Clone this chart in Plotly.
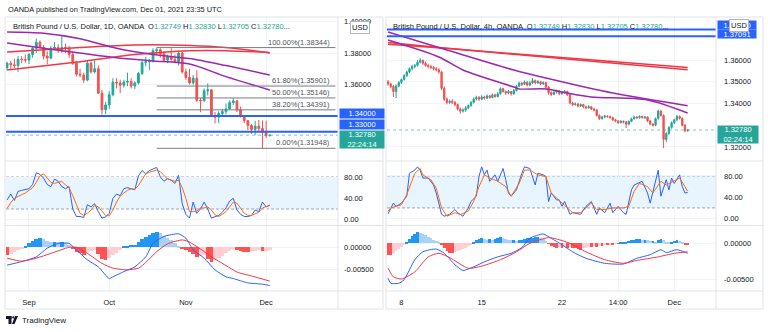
import plotly.graph_objects as go
import pandas as pd

W, H = 768, 332
FONT = "Liberation Sans, Arial, sans-serif"
TXT = "#131722"
UP, DN = "#26a69a", "#ef5350"
BLUE_LVL = "#2962ff"
GRID = "#f0f3fa"
BORDER = "#e0e3eb"

# ---------------- Daily (left) ----------------
d_dates = pd.bdate_range("2021-08-24", "2021-12-02")
d_open = [1.3707, 1.3735, 1.3725, 1.3720, 1.3760, 1.3758, 1.3755, 1.3790, 1.3830, 1.3868,
          1.3835, 1.3780, 1.3768, 1.3830, 1.3835, 1.3815, 1.3835, 1.3830, 1.3790, 1.3735,
          1.3665, 1.3660, 1.3628, 1.3735, 1.3680, 1.3700, 1.3545, 1.3440, 1.3470, 1.3535,
          1.3615, 1.3610, 1.3595, 1.3615, 1.3620, 1.3590, 1.3610, 1.3670, 1.3740, 1.3745,
          1.3748, 1.3815, 1.3820, 1.3795, 1.3755, 1.3775, 1.3760, 1.3745, 1.3800, 1.3680,
          1.3645, 1.3610, 1.3640, 1.3500, 1.3497, 1.3560, 1.3566, 1.3401, 1.3393, 1.3416,
          1.3428, 1.3445, 1.3485, 1.3496, 1.3440, 1.3398, 1.3370, 1.3340, 1.3315, 1.3336,
          1.3320, 1.3297, 1.32749]
d_high = [1.3745, 1.3750, 1.3765, 1.3780, 1.3780, 1.3790, 1.3800, 1.3840, 1.3892, 1.3880,
          1.3850, 1.3810, 1.3845, 1.3870, 1.3855, 1.3912, 1.3860, 1.3845, 1.3810, 1.3750,
          1.3700, 1.3675, 1.3750, 1.3745, 1.3750, 1.3720, 1.3565, 1.3490, 1.3560, 1.3640,
          1.3640, 1.3630, 1.3630, 1.3675, 1.3640, 1.3620, 1.3680, 1.3750, 1.3775, 1.3760,
          1.3830, 1.38344, 1.3830, 1.3810, 1.3790, 1.3830, 1.3790, 1.3810, 1.3810, 1.3700,
          1.3700, 1.3660, 1.3690, 1.3515, 1.3575, 1.3607, 1.3570, 1.3425, 1.3430, 1.3445,
          1.3480, 1.3500, 1.3514, 1.3500, 1.3460, 1.3405, 1.3375, 1.3350, 1.3370, 1.3375,
          1.3372, 1.3370, 1.32830]
d_low = [1.3690, 1.3700, 1.3705, 1.3680, 1.3735, 1.3740, 1.3730, 1.3770, 1.3800, 1.3830,
         1.3760, 1.3728, 1.3760, 1.3820, 1.3800, 1.3800, 1.3800, 1.3770, 1.3725, 1.3650,
         1.3645, 1.3610, 1.3620, 1.3670, 1.3670, 1.3540, 1.3410, 1.3412, 1.3445, 1.3525,
         1.3575, 1.3545, 1.3580, 1.3590, 1.3575, 1.3570, 1.3600, 1.3660, 1.3715, 1.3690,
         1.3740, 1.3790, 1.3770, 1.3740, 1.3735, 1.3750, 1.3735, 1.3720, 1.3670, 1.3630,
         1.3600, 1.3600, 1.3490, 1.3424, 1.3490, 1.3530, 1.3395, 1.3353, 1.3355, 1.3400,
         1.3410, 1.3440, 1.3470, 1.3425, 1.3390, 1.3355, 1.3310, 1.3287, 1.3280, 1.3300,
         1.31948, 1.3260, 1.32705]
d_close = [1.3735, 1.3725, 1.3720, 1.3760, 1.3758, 1.3755, 1.3790, 1.3830, 1.3868, 1.3835,
           1.3780, 1.3768, 1.3830, 1.3835, 1.3815, 1.3835, 1.3830, 1.3790, 1.3735, 1.3665,
           1.3660, 1.3628, 1.3735, 1.3680, 1.3700, 1.3545, 1.3440, 1.3470, 1.3535, 1.3615,
           1.3610, 1.3595, 1.3615, 1.3620, 1.3590, 1.3610, 1.3670, 1.3740, 1.3745, 1.3748,
           1.3815, 1.3820, 1.3795, 1.3755, 1.3775, 1.3760, 1.3745, 1.3800, 1.3680, 1.3645,
           1.3610, 1.3640, 1.3500, 1.3497, 1.3560, 1.3566, 1.3401, 1.3393, 1.3416, 1.3428,
           1.3445, 1.3485, 1.3496, 1.3440, 1.3398, 1.3370, 1.3340, 1.3315, 1.3336, 1.3320,
           1.3297, 1.3275, 1.32780]

# moving averages read at a few bars (bar index, price)
d_ma1_idx = [0, 10, 20, 30, 40, 50, 60, 72]
d_ma1_val = [1.3933, 1.3925, 1.3890, 1.3830, 1.3790, 1.3765, 1.3720, 1.3660]
d_ma2_idx = [0, 10, 20, 30, 40, 50, 60, 72]
d_ma2_val = [1.3863, 1.3830, 1.3800, 1.3770, 1.3750, 1.3730, 1.3650, 1.3565]
d_ma3_idx = [0, 20, 35, 50, 60, 72]
d_ma3_val = [1.3806, 1.3835, 1.3851, 1.3848, 1.3835, 1.3800]
d_ma4_idx = [0, 20, 35, 50, 60, 72]
d_ma4_val = [1.3692, 1.3745, 1.3790, 1.3815, 1.3815, 1.3803]

d_levels = [1.34, 1.33]
fib_pct = ["100.00%", "61.80%", "50.00%", "38.20%", "0.00%"]
fib_val = [1.38344, 1.35901, 1.35146, 1.34391, 1.31948]
fib_from, fib_to = 41, 90

d_stoch_k = [37, 48, 36, 53, 55, 56, 58, 66, 88, 85, 78, 66, 62, 76, 72, 62, 58, 62, 20, 6,
             6, 4, 28, 24, 30, 15, 3, 5, 12, 40, 48, 45, 58, 60, 58, 56, 82, 92, 86, 92,
             95, 98, 80, 72, 77, 74, 68, 83, 30, 10, 3, 33, 12, 20, 33, 20, 3, 5, 8, 14,
             22, 35, 40, 18, 10, 6, 6, 8, 18, 15, 33, 24, 27]
d_stoch_d = [21, 32, 40, 44, 47, 50, 55, 60, 70, 82, 86, 78, 70, 68, 70, 72, 65, 60, 45, 28,
             12, 8, 12, 18, 27, 24, 16, 8, 7, 18, 33, 44, 50, 55, 58, 57, 64, 76, 86, 89,
             91, 93, 90, 82, 76, 74, 72, 74, 60, 40, 15, 15, 16, 22, 22, 24, 18, 9, 6, 10,
             15, 24, 33, 31, 22, 12, 8, 8, 11, 14, 22, 25, 27]
d_hist = [-0.0018, -0.0015, -0.0011, -0.0007, -0.0002, 0.0004, 0.0009, 0.0014, 0.0019, 0.0021,
          0.0018, 0.0015, 0.0013, 0.0013, 0.0012, 0.0012, 0.0010, 0.0006, -0.0002, -0.0010,
          -0.0014, -0.0018, -0.0012, -0.0008, -0.0006, -0.0016, -0.0026, -0.0029, -0.0024, -0.0018,
          -0.0012, -0.0006, 0.0001, 0.0004, 0.0005, 0.0006, 0.0012, 0.0018, 0.0024, 0.0029,
          0.0033, 0.0036, 0.0032, 0.0027, 0.0021, 0.0016, 0.0010, 0.0004, -0.0004, -0.0006,
          -0.0010, -0.0016, -0.0022, -0.0020, -0.0017, -0.0026, -0.0033, -0.0030, -0.0025, -0.0019,
          -0.0013, -0.0008, -0.0005, -0.0006, -0.0009, -0.0011, -0.0011, -0.0009, -0.0008, -0.0007,
          -0.0009, -0.0008, -0.0007]
d_macd_idx = [0, 4, 8, 11, 14, 17, 19, 22, 25, 28, 29, 32, 35, 38, 40, 43, 47, 49, 51, 54,
              57, 60, 62, 66, 70, 72]
d_macd_val = [-0.0041, -0.0033, -0.0022, -0.0002, 0.0009, 0.0009, -0.0006, -0.0029, -0.0045, -0.0072,
              -0.0068, -0.0056, -0.0045, -0.0022, 0.0009, 0.0025, 0.0031, 0.0021, -0.0006, -0.0025,
              -0.0052, -0.0068, -0.0072, -0.0082, -0.0085, -0.0088]
d_sig_idx = [0, 4, 8, 12, 17, 19, 22, 26, 29, 33, 36, 38, 41, 44, 48, 50, 53, 56, 60, 63, 67, 72]
d_sig_val = [-0.0025, -0.0032, -0.0025, -0.0014, 0.0, 0.0, -0.0014, -0.0037, -0.0048, -0.0052,
             -0.0048, -0.0035, -0.0010, 0.0008, 0.0017, 0.0012, -0.0004, -0.0022, -0.0042, -0.0057,
             -0.0066, -0.0078]

# ---------------- 4h (right) ----------------
h_days = pd.bdate_range("2021-11-05", "2021-12-01")
h_times = [day + pd.Timedelta(hours=hh) for day in h_days for hh in (2, 6, 10, 14, 18, 22)][1:]
h_open = [1.3500, 1.3490, 1.3478, 1.3455, 1.3480, 1.3497, 1.3510, 1.3528, 1.3545, 1.3560,
          1.3570, 1.3575, 1.3590, 1.3598, 1.3585, 1.3575, 1.3570, 1.3566, 1.3560, 1.3555,
          1.3545, 1.3470, 1.3420, 1.3405, 1.3410, 1.3405, 1.3395, 1.3375, 1.3365, 1.3370,
          1.3380, 1.3390, 1.3405, 1.3420, 1.3428, 1.3420, 1.3430, 1.3425, 1.3435, 1.3428,
          1.3440, 1.3432, 1.3445, 1.3468, 1.3455, 1.3448, 1.3455, 1.3445, 1.3460, 1.3480,
          1.3494, 1.3488, 1.3498, 1.3485, 1.3495, 1.3505, 1.3495, 1.3500, 1.3490, 1.3496,
          1.3475, 1.3450, 1.3442, 1.3452, 1.3458, 1.3445, 1.3450, 1.3455, 1.3440, 1.3402,
          1.3395, 1.3398, 1.3388, 1.3395, 1.3385, 1.3380, 1.3385, 1.3375, 1.3370, 1.3345,
          1.3330, 1.3338, 1.3342, 1.3340, 1.3335, 1.3325, 1.3320, 1.3312, 1.3318, 1.3315,
          1.3305, 1.3318, 1.3330, 1.3338, 1.3335, 1.3340, 1.3335, 1.3338, 1.3320, 1.3305,
          1.3300, 1.3330, 1.3365, 1.3345, 1.3235, 1.3262, 1.3290, 1.3312, 1.3325, 1.3340,
          1.3332, 1.3300, 1.32749]
h_high = [1.3508, 1.3496, 1.3485, 1.3488, 1.3502, 1.3515, 1.3535, 1.3550, 1.3566, 1.3578,
          1.3582, 1.3600, 1.3609, 1.3602, 1.3592, 1.3583, 1.3578, 1.3572, 1.3568, 1.3562,
          1.3550, 1.3478, 1.3428, 1.3418, 1.3420, 1.3412, 1.3400, 1.3382, 1.3378, 1.3388,
          1.3396, 1.3412, 1.3428, 1.3436, 1.3434, 1.3438, 1.3436, 1.3442, 1.3440, 1.3446,
          1.3445, 1.3452, 1.3474, 1.3472, 1.3460, 1.3462, 1.3458, 1.3466, 1.3486, 1.3500,
          1.3498, 1.3506, 1.3502, 1.3502, 1.3517, 1.3510, 1.3508, 1.3504, 1.3502, 1.3500,
          1.3480, 1.3456, 1.3460, 1.3464, 1.3462, 1.3456, 1.3462, 1.3460, 1.3445, 1.3408,
          1.3405, 1.3402, 1.3400, 1.3398, 1.3390, 1.3392, 1.3388, 1.3380, 1.3374, 1.3350,
          1.3344, 1.3348, 1.3346, 1.3344, 1.3338, 1.3330, 1.3324, 1.3324, 1.3322, 1.3320,
          1.3322, 1.3335, 1.3344, 1.3342, 1.3346, 1.3344, 1.3342, 1.3340, 1.3324, 1.3310,
          1.3336, 1.3372, 1.3370, 1.3350, 1.3268, 1.3296, 1.3318, 1.3330, 1.3348, 1.3345,
          1.3336, 1.3306, 1.32830]
h_low = [1.3482, 1.3470, 1.3430, 1.3425, 1.3474, 1.3490, 1.3505, 1.3522, 1.3540, 1.3552,
         1.3562, 1.3570, 1.3584, 1.3578, 1.3568, 1.3562, 1.3558, 1.3552, 1.3548, 1.3538,
         1.3462, 1.3412, 1.3396, 1.3398, 1.3398, 1.3388, 1.3368, 1.3353, 1.3358, 1.3362,
         1.3374, 1.3385, 1.3400, 1.3414, 1.3412, 1.3416, 1.3418, 1.3420, 1.3422, 1.3424,
         1.3426, 1.3428, 1.3440, 1.3450, 1.3440, 1.3442, 1.3436, 1.3440, 1.3455, 1.3475,
         1.3480, 1.3484, 1.3478, 1.3480, 1.3490, 1.3488, 1.3490, 1.3484, 1.3486, 1.3468,
         1.3440, 1.3434, 1.3438, 1.3446, 1.3438, 1.3440, 1.3444, 1.3434, 1.3396, 1.3388,
         1.3390, 1.3382, 1.3384, 1.3378, 1.3374, 1.3376, 1.3370, 1.3364, 1.3340, 1.3324,
         1.3326, 1.3332, 1.3334, 1.3330, 1.3320, 1.3314, 1.3306, 1.3308, 1.3308, 1.3287,
         1.3300, 1.3314, 1.3326, 1.3328, 1.3330, 1.3330, 1.3328, 1.3315, 1.3300, 1.3294,
         1.3296, 1.3326, 1.3340, 1.3195, 1.3222, 1.3255, 1.3284, 1.3305, 1.3318, 1.3326,
         1.3295, 1.3268, 1.32705]
h_close = [1.3490, 1.3478, 1.3455, 1.3480, 1.3497, 1.3510, 1.3528, 1.3545, 1.3560, 1.3570,
           1.3575, 1.3590, 1.3598, 1.3585, 1.3575, 1.3570, 1.3566, 1.3560, 1.3555, 1.3545,
           1.3470, 1.3420, 1.3405, 1.3410, 1.3405, 1.3395, 1.3375, 1.3365, 1.3370, 1.3380,
           1.3390, 1.3405, 1.3420, 1.3428, 1.3420, 1.3430, 1.3425, 1.3435, 1.3428, 1.3440,
           1.3432, 1.3445, 1.3468, 1.3455, 1.3448, 1.3455, 1.3445, 1.3460, 1.3480, 1.3494,
           1.3488, 1.3498, 1.3485, 1.3495, 1.3505, 1.3495, 1.3500, 1.3490, 1.3496, 1.3475,
           1.3450, 1.3442, 1.3452, 1.3458, 1.3445, 1.3450, 1.3455, 1.3440, 1.3402, 1.3395,
           1.3398, 1.3388, 1.3395, 1.3385, 1.3380, 1.3385, 1.3375, 1.3370, 1.3345, 1.3330,
           1.3338, 1.3342, 1.3340, 1.3335, 1.3325, 1.3320, 1.3312, 1.3318, 1.3315, 1.3305,
           1.3318, 1.3330, 1.3338, 1.3335, 1.3340, 1.3335, 1.3338, 1.3320, 1.3305, 1.3300,
           1.3330, 1.3365, 1.3345, 1.3235, 1.3262, 1.3290, 1.3312, 1.3325, 1.3340, 1.3332,
           1.3300, 1.3275, 1.32780]

h_ma1_idx = [0, 22, 47, 59, 84, 112]
h_ma1_val = [1.3729, 1.3646, 1.3554, 1.3517, 1.3448, 1.3390]
h_ma2_idx = [0, 19, 28, 47, 49, 59, 67, 76, 97, 112]
h_ma2_val = [1.3692, 1.3614, 1.3554, 1.3476, 1.3467, 1.3467, 1.3448, 1.3430, 1.3416, 1.3356]
h_ma3_idx = [0, 25, 112]
h_ma3_val = [1.3680, 1.3650, 1.3555]
h_ma4_idx = [0, 25, 112]
h_ma4_val = [1.3672, 1.3650, 1.3566]
h_levels = [1.3740, 1.37091]

h_k_idx = [0, 2, 3, 5, 7, 8, 10, 11, 12, 13, 15, 17, 18, 20, 21, 23, 25, 26, 28, 30,
           31, 33, 34, 35, 36, 37, 38, 40, 41, 43, 44, 45, 46, 48, 50, 51, 53, 55, 56, 58,
           59, 60, 61, 63, 64, 65, 66, 68, 69, 72, 74, 76, 78, 79, 81, 83, 84, 86, 88, 89,
           91, 92, 95, 97, 98, 99, 101, 102, 104, 105, 106, 107, 109, 110, 111, 112]
h_k_val = [9, 29, 23, 29, 42, 85, 91, 97, 91, 76, 76, 63, 48, 8, 4.5, 8, 17, 11, 4.5, 20,
           32, 42, 79, 97, 82, 91, 70, 82, 70, 94, 73, 48, 42, 54, 85, 97, 94, 63, 85, 82,
           79, 32, 48, 35, 35, 23, 32, 8, 11, 8, 23, 32, 8, 20, 11, 29, 11, 23, 11, 8,
           54, 63, 70, 48, 29, 51, 91, 42, 73, 54, 76, 66, 82, 60, 48, 49]
h_d_idx = [0, 1, 5, 7, 10, 12, 13, 16, 18, 20, 22, 25, 27, 30, 32, 34, 36, 38, 41, 44,
           46, 49, 51, 53, 56, 59, 61, 63, 66, 69, 72, 76, 78, 81, 84, 88, 90, 92, 94, 97,
           99, 102, 104, 107, 109, 111, 112]
h_d_val = [14, 20, 26, 45, 85, 94, 82, 73, 57, 20, 4.5, 11, 7.6, 14, 32, 60, 82, 76, 70, 60,
           42, 66, 91, 91, 82, 79, 48, 38.5, 26, 11, 11, 29, 17, 17, 20, 20, 23, 51, 66, 60,
           48, 70, 63, 70, 76, 60, 51]
h_hist = [-0.0016, -0.0016, -0.0014, -0.0011, -0.0008, -0.0005, -0.0002, 0.0002, 0.0006, 0.0010,
          0.0013, 0.0016, 0.0015, 0.0013, 0.0011, 0.0009, 0.0007, 0.0005, 0.0003, 0.0001,
          -0.0003, -0.0007, -0.0011, -0.0013, -0.0014, -0.0012, -0.0011, -0.0009, -0.0008, -0.0006,
          -0.0004, -0.0002, 0.0001, 0.0004, 0.0006, 0.0007, 0.0006, 0.0005, 0.0006, 0.0005,
          0.0006, 0.0008, 0.0009, 0.0007, 0.0006, 0.0005, 0.0004, 0.0004, 0.0003, 0.0004,
          0.0005, 0.0006, 0.0007, 0.0008, 0.0008, 0.0009, 0.0009, 0.0008, 0.0006, 0.0003,
          -0.0001, -0.0004, -0.0005, -0.0006, -0.0005, -0.0006, -0.0005, -0.0006, -0.0005, -0.0006,
          -0.0007, -0.0008, -0.0009, -0.0007, -0.0006, -0.0005, -0.0005, -0.0004, -0.0005, -0.0004,
          -0.0004, -0.0003, -0.0003, -0.0002, -0.0002, -0.0001, -0.0001, 0.0001, 0.0001, 0.0002,
          0.0003, 0.0004, 0.0005, 0.0006, 0.0006, 0.0005, 0.0005, 0.0004, 0.0003, 0.0003,
          0.0002, 0.0004, 0.0006, 0.0004, 0.0002, 0.0001, 0.0002, 0.0003, 0.0004, 0.0003,
          0.0001, -0.0002, -0.0003]
h_macd_idx = [0, 1, 4, 6, 10, 13, 18, 21, 25, 28, 32, 36, 41, 46, 50, 53, 58, 61, 65, 69,
              74, 81, 88, 93, 98, 102, 104, 108, 112]
h_macd_val = [-0.0049, -0.0056, -0.0056, -0.0051, -0.0023, -0.0012, -0.0008, -0.0014, -0.0030, -0.0038,
              -0.0033, -0.0026, -0.0019, -0.0014, -0.0006, 0.0007, 0.0013, 0.0007, -0.0002, -0.0012,
              -0.0021, -0.0028, -0.0029, -0.0021, -0.0016, -0.0009, -0.0013, -0.0009, -0.0014]
h_sig_idx = [0, 2, 5, 10, 15, 19, 23, 30, 35, 42, 48, 53, 60, 63, 68, 74, 81, 88, 93, 101, 107, 112]
h_sig_val = [-0.0035, -0.0047, -0.0050, -0.0040, -0.0019, -0.0014, -0.0020, -0.0035, -0.0032, -0.0023,
             -0.0012, 0.0, 0.0008, 0.0006, 0.0, -0.0012, -0.0023, -0.0028, -0.0024, -0.0019, -0.0014,
             -0.0012]

legend_ohlc = [1.32749, 1.32830, 1.32705, 1.32780]
last_price = 1.32780

# ---------------- geometry helpers ----------------
def px(x):
    return x / W


def py(y):
    return 1 - y / H


LX = [px(6), px(338)]
RX = [px(387), px(716)]
Y_MAIN = [py(160), py(17)]
Y_STO = [py(225), py(161)]
Y_MACD = [py(291), py(226)]
L_RANGE = [-0.3, 90.7]
R_RANGE = [-0.4, 122.6]

fig = go.Figure()

d_x = list(range(len(d_dates)))
h_x = list(range(len(h_times)))


def hist_colors(vals):
    cols = []
    prev = 0.0
    for v in vals:
        if v >= 0:
            cols.append("#2196f3" if v >= prev else "#a8d2f8")
        else:
            cols.append("#ff5252" if v <= prev else "#ffcdd2")
        prev = v
    return cols


def add_side(xs, o, hi, lo, c, ma_list, k_x, k_v, d_x_, d_v, hist, m_x, m_v, s_x, s_v, ax):
    xa, ya = ax[0]
    fig.add_trace(go.Candlestick(
        x=xs, open=o, high=hi, low=lo, close=c, xaxis=xa, yaxis=ya,
        increasing=dict(line=dict(color=UP, width=1), fillcolor=UP),
        decreasing=dict(line=dict(color=DN, width=1), fillcolor=DN),
        whiskerwidth=0, showlegend=False, hoverinfo="skip"))
    for (mi, mv, col) in ma_list:
        fig.add_trace(go.Scatter(x=mi, y=mv, mode="lines", xaxis=xa, yaxis=ya,
                                 line=dict(color=col, width=1.5, shape="spline", smoothing=0.8),
                                 showlegend=False, hoverinfo="skip"))
    xa2, ya2 = ax[1]
    fig.add_trace(go.Scatter(x=k_x, y=k_v, mode="lines", xaxis=xa2, yaxis=ya2,
                             line=dict(color="#2962ff", width=1), showlegend=False, hoverinfo="skip"))
    fig.add_trace(go.Scatter(x=d_x_, y=d_v, mode="lines", xaxis=xa2, yaxis=ya2,
                             line=dict(color="#ff6d00", width=1), showlegend=False, hoverinfo="skip"))
    xa3, ya3 = ax[2]
    fig.add_trace(go.Bar(x=xs, y=hist, xaxis=xa3, yaxis=ya3, width=1.0,
                         marker=dict(color=hist_colors(hist), line=dict(width=0)),
                         showlegend=False, hoverinfo="skip"))
    fig.add_trace(go.Scatter(x=m_x, y=m_v, mode="lines", xaxis=xa3, yaxis=ya3,
                             line=dict(color="#2962ff", width=1, shape="spline", smoothing=0.6),
                             showlegend=False, hoverinfo="skip"))
    fig.add_trace(go.Scatter(x=s_x, y=s_v, mode="lines", xaxis=xa3, yaxis=ya3,
                             line=dict(color="#f23645", width=1, shape="spline", smoothing=0.6),
                             showlegend=False, hoverinfo="skip"))


PURPLE, RED = "#9c27b0", "#f23645"
add_side(d_x, d_open, d_high, d_low, d_close,
         [(d_ma3_idx, d_ma3_val, RED), (d_ma4_idx, d_ma4_val, RED),
          (d_ma1_idx, d_ma1_val, PURPLE), (d_ma2_idx, d_ma2_val, PURPLE)],
         d_x, d_stoch_k, d_x, d_stoch_d, d_hist, d_macd_idx, d_macd_val, d_sig_idx, d_sig_val,
         [("x", "y"), ("x2", "y2"), ("x3", "y3")])
add_side(h_x, h_open, h_high, h_low, h_close,
         [(h_ma3_idx, h_ma3_val, RED), (h_ma4_idx, h_ma4_val, RED),
          (h_ma1_idx, h_ma1_val, PURPLE), (h_ma2_idx, h_ma2_val, PURPLE)],
         h_k_idx, h_k_val, h_d_idx, h_d_val, h_hist, h_macd_idx, h_macd_val, h_sig_idx, h_sig_val,
         [("x4", "y4"), ("x5", "y5"), ("x6", "y6")])

# time ticks
d_tick_names = ["Sep", "Oct", "Nov", "Dec"]
d_tick_pos = [next(i for i, d in enumerate(d_dates) if d.month == m) for m in (9, 10, 11, 12)]
h_tick_names = ["8", "15", "22", "14:00", "Dec"]
h_tick_stamps = [pd.Timestamp("2021-11-08 02:00"), pd.Timestamp("2021-11-15 02:00"),
                 pd.Timestamp("2021-11-22 02:00"), pd.Timestamp("2021-11-25 14:00"),
                 pd.Timestamp("2021-12-01 02:00")]
h_tick_pos = [h_times.index(t) for t in h_tick_stamps]

tickfont = dict(family=FONT, size=7.5, color=TXT)


def xax(domain, rng, anchor, tv, tt, show):
    return dict(domain=domain, range=rng, anchor=anchor, tickvals=tv, ticktext=tt,
                showticklabels=show, ticks="", showgrid=True, gridcolor=GRID, gridwidth=1,
                zeroline=False, showline=False, fixedrange=True, tickfont=tickfont,
                ticklabelstandoff=5, rangeslider=dict(visible=False))


def yax(domain, rng, anchor, tv, tt, standoff=5):
    return dict(domain=domain, range=rng, anchor=anchor, side="right", tickvals=tv, ticktext=tt,
                ticks="", showgrid=True, gridcolor=GRID, zeroline=False, showline=False,
                fixedrange=True, tickfont=tickfont, ticklabelstandoff=standoff)


# price ticks that are not covered by the price-label boxes
l_price_ticks = [1.36, 1.38, 1.40]
r_price_ticks = [1.32, 1.34, 1.35, 1.36]
sto_ticks = [0, 40, 80]
macd_ticks = [0.0, -0.005]

layout = dict(
    width=W, height=H, margin=dict(l=0, r=0, t=0, b=0),
    paper_bgcolor="white", plot_bgcolor="white", showlegend=False,
    bargap=0, boxgap=0.3, font=dict(family=FONT, size=7.5, color=TXT),
    xaxis=xax(LX, L_RANGE, "y", d_tick_pos, d_tick_names, False),
    xaxis2=xax(LX, L_RANGE, "y2", d_tick_pos, d_tick_names, False),
    xaxis3=xax(LX, L_RANGE, "y3", d_tick_pos, d_tick_names, True),
    xaxis4=xax(RX, R_RANGE, "y4", h_tick_pos, h_tick_names, False),
    xaxis5=xax(RX, R_RANGE, "y5", h_tick_pos, h_tick_names, False),
    xaxis6=xax(RX, R_RANGE, "y6", h_tick_pos, h_tick_names, True),
    yaxis=yax(Y_MAIN, [1.31206, 1.40286], "x", l_price_ticks, [f"{v:.5f}" for v in l_price_ticks]),
    yaxis2=yax(Y_STO, [-10, 110], "x2", sto_ticks, [f"{v:.2f}" for v in sto_ticks]),
    yaxis3=yax(Y_MACD, [-0.01007, 0.00491], "x3", macd_ticks, [f"{v:.5f}" for v in macd_ticks]),
    yaxis4=yax(Y_MAIN, [1.31402, 1.37977], "x4", r_price_ticks, [f"{v:.5f}" for v in r_price_ticks], 7),
    yaxis5=yax(Y_STO, [-12, 108], "x5", sto_ticks, [f"{v:.2f}" for v in sto_ticks], 7),
    yaxis6=yax(Y_MACD, [-0.00668, 0.00242], "x6", macd_ticks, [f"{v:.5f}" for v in macd_ticks], 7),
)
fig.update_layout(**layout)

shapes = []
for xd, yr in (("x2 domain", "y2"), ("x5 domain", "y5")):
    shapes.append(dict(type="rect", xref=xd, yref=yr, x0=0, x1=1, y0=20, y1=80,
                       fillcolor="rgba(33,150,243,0.10)", line=dict(width=0), layer="below"))
    for lv in (80, 20):
        shapes.append(dict(type="line", xref=xd, yref=yr, x0=0, x1=1, y0=lv, y1=lv,
                           line=dict(color="#a3a6af", width=1, dash="3px,2px"), layer="below"))
for lv in d_levels:
    shapes.append(dict(type="line", xref="x domain", yref="y", x0=0, x1=1, y0=lv, y1=lv,
                       line=dict(color=BLUE_LVL, width=2)))
for lv in h_levels:
    shapes.append(dict(type="line", xref="x4 domain", yref="y4", x0=0, x1=1, y0=lv, y1=lv,
                       line=dict(color=BLUE_LVL, width=2)))
for lv in fib_val:
    shapes.append(dict(type="line", xref="x", yref="y", x0=fib_from, x1=fib_to, y0=lv, y1=lv,
                       line=dict(color="#787b86", width=1)))
for xd, yr in (("x domain", "y"), ("x4 domain", "y4")):
    shapes.append(dict(type="line", xref=xd, yref=yr, x0=0, x1=1, y0=last_price, y1=last_price,
                       line=dict(color="rgba(38,166,154,0.6)", width=1, dash="dot")))


def pline(x0, y0, x1, y1, col=BORDER):
    shapes.append(dict(type="line", xref="paper", yref="paper", x0=px(x0), y0=py(y0),
                       x1=px(x1), y1=py(y1), line=dict(color=col, width=1)))


for (a, b, sep) in ((5, 383, 338), (386, 763, 716)):
    shapes.append(dict(type="rect", xref="paper", yref="paper", x0=px(a), x1=px(b),
                       y0=py(309), y1=py(17), line=dict(color=BORDER, width=1)))
    pline(sep, 17, sep, 309)
    for yy in (161, 225.5, 291):
        pline(a, yy, b, yy)

# TradingView logo
shapes.append(dict(type="rect", xref="paper", yref="paper", x0=px(6), x1=px(11.5),
                   y0=py(319), y1=py(316), fillcolor=TXT, line=dict(width=0)))
shapes.append(dict(type="rect", xref="paper", yref="paper", x0=px(8.5), x1=px(11.5),
                   y0=py(324), y1=py(316), fillcolor=TXT, line=dict(width=0)))
shapes.append(dict(type="circle", xref="paper", yref="paper", x0=px(12.2), x1=px(14.2),
                   y0=py(318.5), y1=py(316.3), fillcolor=TXT, line=dict(width=0)))
shapes.append(dict(type="path", xref="paper", yref="paper",
                   path=f"M {px(15)} {py(316)} L {px(18)} {py(316)} L {px(14.5)} {py(324)} L {px(12)} {py(324)} Z",
                   fillcolor=TXT, line=dict(width=0)))
fig.update_layout(shapes=shapes)

ann = []
ann.append(dict(xref="paper", yref="paper", x=px(6), y=py(9), xanchor="left", yanchor="middle",
                text="OANDA published on TradingView.com, Dec 01, 2021 23:35 UTC", showarrow=False,
                font=dict(family=FONT, size=7.4, color=TXT)))
vals = "".join(f" {lab}<span style='color:{UP}'>{v:.5f}</span>" for lab, v in zip("OHLC", legend_ohlc))
ann.append(dict(xref="paper", yref="paper", x=px(11), y=py(26.5), xanchor="left", yanchor="middle",
                text="British Pound / U.S. Dollar, 1D, OANDA " + vals + "...", showarrow=False,
                font=dict(family=FONT, size=7.5, color=TXT)))
ann.append(dict(xref="paper", yref="paper", x=px(391), y=py(26.5), xanchor="left", yanchor="middle",
                text="British Pound / U.S. Dollar, 4h, OANDA " + vals + "...", showarrow=False,
                font=dict(family=FONT, size=7.5, color=TXT)))
for pct, lv in zip(fib_pct, fib_val):
    ann.append(dict(xref="x", yref="y", x=fib_to, y=lv, xanchor="right", yanchor="bottom",
                    xshift=-3, yshift=-1, text=f"{pct}({lv:.5f})", showarrow=False,
                    font=dict(family=FONT, size=7.5, color="#50535e")))


def box(xpx, yref, yv, txt, col, shift, w, h):
    ann.append(dict(xref="paper", yref=yref, x=px(xpx), y=yv, xanchor="left", yanchor="middle",
                    yshift=shift, text=txt, showarrow=False, bgcolor=col, width=w, height=h,
                    borderpad=0, align="center", font=dict(family=FONT, size=7.5, color="white")))


box(338.5, "y", d_levels[0], f"{d_levels[0]:.5f}", BLUE_LVL, 2.5, 44, 9)
box(338.5, "y", d_levels[1], f"{d_levels[1]:.5f}", BLUE_LVL, 7.3, 44, 9)
box(338.5, "y", last_price, f"{last_price:.5f}<br>22:24:14", UP, -4.5, 44, 17)
box(716.5, "y4", h_levels[0], f"{h_levels[0]:.5f}", BLUE_LVL, 4.6, 38, 8)
box(716.5, "y4", h_levels[1], f"{h_levels[1]:.5f}", BLUE_LVL, 2.3, 38, 8)
box(716.5, "y4", last_price, f"{last_price:.5f}<br>02:24:14", UP, -4.5, 40, 17)
for cx, cy in ((359.5, 27), (739, 26)):
    ann.append(dict(xref="paper", yref="paper", x=px(cx), y=py(cy), xanchor="center", yanchor="middle",
                    text="USD", showarrow=False, bgcolor="white", bordercolor="#b2b5be", borderwidth=1,
                    borderpad=1, font=dict(family=FONT, size=7.5, color=TXT)))
ann.append(dict(xref="paper", yref="paper", x=px(19.5), y=py(320.5), xanchor="left", yanchor="middle",
                text="TradingView", showarrow=False, font=dict(family=FONT, size=8, color=TXT)))
fig.update_layout(annotations=ann)

fig.write_html("out.html")
